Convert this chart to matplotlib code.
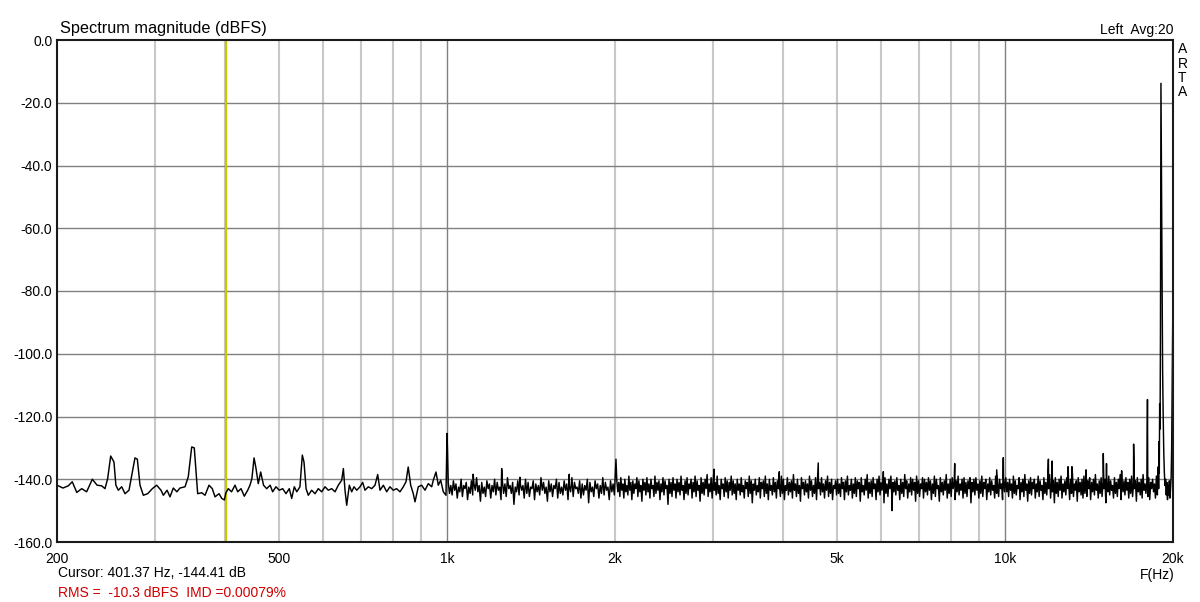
import numpy as np
import matplotlib
matplotlib.use("Agg")
import matplotlib.pyplot as plt

plt.rcParams['font.family'] = ['Liberation Sans', 'DejaVu Sans']

# ---------------- data ----------------
# low-frequency part (200 Hz .. 1 kHz), traced point by point
lf_freq = [200, 205, 209.5, 213, 217, 221.5, 226, 231.4, 236, 240.5, 243.8, 246.5,
           249.6, 253, 255, 257.6, 261.2, 264.8, 269.2, 272.9, 275.9, 278.6, 281.7,
           285.6, 290.8, 296.4, 301.8, 307.2, 310.2, 315, 318.8, 323.2, 328, 332.2,
           339.2, 343.8, 348.7, 352.4, 357.4, 363.4, 368.4, 374.5, 379.6, 383.9,
           390.3, 394.7, 399, 401.37, 405.5, 411, 416.9, 421.6, 427.4, 433.2, 439.3,
           443.5, 447, 451, 454.6, 458.9, 463.5, 469, 475.1, 482, 487, 493.7, 500.5,
           507.6, 514.5, 521.6, 526.8, 532.5, 538, 545, 550.4, 554.2, 559, 564.1,
           572.1, 580, 587.9, 596.2, 604.4, 612.7, 621.3, 629.9, 638.5, 647.5, 652,
           656.4, 661, 668.2, 674.8, 681.3, 689, 698.3, 706.1, 712.9, 722.6, 732.8,
           742.9, 751.2, 758.4, 769, 779.6, 790, 801.2, 812, 823.6, 835, 844.2, 852,
           860.8, 870, 876.2, 888.2, 900.7, 913.1, 925.6, 938.7, 944.9, 955.5, 964.6,
           974.2, 984.7, 995.7]
lf_db = [-141.9, -142.8, -142.1, -140.8, -144.2, -143.0, -144.0, -140.0, -141.9, -142.1,
         -143.0, -139.8, -132.6, -134.5, -141.9, -143.5, -142.4, -144.6, -143.5, -137.7,
         -133.2, -133.6, -141.9, -145.1, -144.6, -143.0, -141.9, -143.5, -145.1, -143.5,
         -145.6, -142.8, -144.0, -142.8, -142.4, -139.2, -129.7, -130.0, -144.6, -144.3,
         -145.1, -141.9, -143.0, -145.6, -144.6, -146.1, -146.6, -144.41, -143.0, -144.0,
         -141.9, -144.0, -143.0, -145.4, -143.5, -141.9, -139.8, -133.2, -136.5, -141.4,
         -137.7, -141.9, -143.0, -141.9, -144.0, -142.4, -143.5, -143.0, -144.6, -143.0,
         -146.1, -142.4, -144.0, -142.4, -132.3, -134.5, -143.0, -145.1, -143.5, -144.6,
         -143.0, -144.0, -142.4, -143.5, -143.0, -144.0, -141.9, -140.3, -136.6, -143.5,
         -148.3, -141.9, -144.0, -142.4, -143.5, -142.4, -141.0, -143.5, -142.4, -143.0,
         -141.9, -138.5, -143.5, -141.9, -144.0, -142.4, -143.5, -143.0, -144.0, -142.4,
         -140.8, -136.1, -141.9, -144.6, -147.2, -142.4, -141.9, -143.5, -141.4, -142.4,
         -140.3, -137.7, -141.9, -140.3, -144.0, -145.1]

# noise floor, read column by column, per frequency band
band_1k_2k = (1005, 1995)
noise_1k_2k = [
    -141, -144.5, -142, -145, -140.5, -143.5, -141.5, -146, -142.5, -144,
    -140, -145.5, -142, -143, -141, -146.5, -142.5, -144.5, -140.5, -145,
    -141.5, -143.5, -139.5, -144, -142, -147, -141, -144.5, -142.5, -145.5,
    -140.5, -143, -141.5, -146, -142, -144, -140, -145, -141, -143.5,
    -142.5, -146.5, -140.5, -144.5, -141.5, -145.5, -139.5, -143, -142, -144.5,
    -141, -148, -142.5, -144, -140.5, -145, -141.5, -143.5, -142, -146,
    -140, -144.5, -141, -145.5, -142.5, -143, -140.5, -146.5, -141.5, -144,
    -142, -145, -139.5, -143.5, -141, -144.5, -142.5, -147, -140.5, -144,
    -141.5, -145.5, -142, -143, -140, -146, -141, -144.5, -142.5, -145,
    -140.5, -143.5, -141.5, -146.5, -142, -144, -139.5, -145.5, -141, -143,
    -142.5, -144.5, -140.5, -146, -141.5, -145, -142, -143.5, -140, -147.5,
    -141, -144, -142.5, -145.5, -140.5, -143, -141.5, -146, -142, -144.5,
    -139.5, -145, -141, -143.5, -142.5, -146.5, -140.5, -144, -141.5, -145]
band_2k_5k = (2015, 4990)
noise_2k_5k = [
    -140.5, -144, -141, -145.5, -139.5, -143.5, -141.5, -146, -140, -144,
    -142, -145, -139, -143.5, -141, -146.5, -140.5, -144.5, -141.5, -143,
    -139.5, -145.5, -140.5, -144, -142, -147, -140, -143.5, -141, -145,
    -139.5, -144, -141.5, -146, -140, -143, -142, -145.5, -139, -144.5,
    -141, -143.5, -140.5, -146.5, -141.5, -144, -139.5, -145, -140.5, -143,
    -142, -148, -140, -144.5, -141, -145.5, -139.5, -143.5, -141.5, -146,
    -140, -144, -141, -145, -139, -143.5, -142, -146.5, -140.5, -144.5,
    -139.5, -145, -141.5, -143, -140, -146, -141, -144, -139, -145.5,
    -140.5, -143.5, -142, -147, -139.5, -144.5, -141, -145, -140, -143,
    -138.5, -145.5, -141.5, -144, -139.5, -146, -140.5, -143.5, -141, -145,
    -139, -144.5, -142, -146.5, -140, -143, -141.5, -145.5, -139.5, -144,
    -140.5, -146, -141, -143.5, -139, -145, -140.5, -144.5, -141.5, -146.5,
    -140, -143.5, -141.5, -145, -139.5, -144, -142, -146, -140.5, -143,
    -141, -145.5, -139, -144.5, -140.5, -147.5, -141.5, -143.5, -140, -145,
    -142, -144, -139.5, -146, -141, -143, -140.5, -145.5, -139, -144.5,
    -141.5, -146.5, -140, -143.5, -142, -145, -139.5, -144, -141, -146,
    -140.5, -143, -141.5, -145.5, -139, -144.5, -140, -146.5, -142, -143.5,
    -139.5, -145, -141, -144, -140.5, -146, -138.5, -143.5, -141.5, -145.5,
    -140, -144.5, -142, -147, -139.5, -143, -141, -145, -140.5, -144,
    -141.5, -146, -139, -143.5, -140.5, -145.5, -142, -144.5, -139.5, -146.5,
    -140, -143, -141, -145, -139.5, -144, -141.5, -146, -140.5, -143.5,
    -139, -145.5, -141, -144.5, -140, -146.5, -142, -143, -140.5, -145]
band_5k_10k = (5010, 9980)
noise_5k_10k = [
    -140, -144.5, -141.5, -145.5, -139.5, -143, -141, -146.5, -140.5, -144,
    -139, -145, -142, -143.5, -140, -146, -141.5, -144.5, -139.5, -145.5,
    -140.5, -143, -141, -147, -139.5, -144, -142, -145, -140, -143.5,
    -138.5, -146, -141, -144.5, -140.5, -145.5, -139.5, -143, -141.5, -146.5,
    -140, -144, -139, -145, -141, -143.5, -140.5, -147.5, -139.5, -144.5,
    -141.5, -145.5, -140, -143, -139, -146, -141, -144, -140.5, -145,
    -139.5, -143.5, -142, -146.5, -140, -144.5, -141, -145.5, -138.5, -143,
    -140.5, -146, -141.5, -144, -139.5, -145, -140, -143.5, -141, -147,
    -139, -144.5, -140.5, -145.5, -141.5, -143, -139.5, -146, -140, -144,
    -141, -145, -139.5, -143.5, -140.5, -146.5, -141.5, -144.5, -139, -145.5,
    -140, -143, -142, -147, -139.5, -144, -141, -145, -140.5, -143.5,
    -138.5, -146, -141.5, -144.5, -140, -145.5, -139.5, -143, -141, -146.5,
    -140.5, -144, -139, -145, -141.5, -143.5, -140, -146, -139.5, -144.5,
    -141, -145.5, -140.5, -143, -139.5, -147.5, -141, -144, -140, -145,
    -139.5, -143.5, -141.5, -146, -140.5, -144.5, -139, -145.5, -141, -143,
    -140, -146.5, -141.5, -144, -139.5, -145, -140.5, -143.5, -142, -146,
    -139, -144.5, -141, -145.5, -140, -143, -141.5, -146.5, -139.5, -144]
band_10k_19k = (10030, 18750)
noise_10k_19k = [
    -139.5, -144, -141, -145.5, -140, -143.5, -141.5, -146, -139, -144.5,
    -140.5, -145, -142, -143, -139.5, -146.5, -141, -144, -140, -145.5,
    -138.5, -143.5, -141.5, -147, -140.5, -144.5, -139.5, -145, -141, -143,
    -140, -146, -141.5, -144, -139, -145.5, -140.5, -143.5, -142, -146.5,
    -139.5, -144.5, -141, -145, -140, -143, -138.5, -146, -141.5, -144,
    -140.5, -147.5, -139.5, -144.5, -141, -145.5, -140, -143.5, -139, -146,
    -141.5, -144, -140.5, -145, -139.5, -143, -141, -146.5, -140, -144.5,
    -138.5, -145.5, -141.5, -143.5, -140.5, -147, -139.5, -144, -141, -145,
    -140, -146, -139, -144.5, -141.5, -145.5, -140.5, -143, -139.5, -146.5,
    -141, -144, -140, -145, -138.5, -143.5, -141.5, -146, -140.5, -144.5,
    -139.5, -145.5, -141, -143, -140, -147.5, -141.5, -144, -139, -145,
    -140.5, -143.5, -142, -146, -139.5, -144.5, -141, -145.5, -140, -143,
    -138.5, -146.5, -141.5, -144, -140.5, -145, -139.5, -143.5, -141, -146,
    -140, -144.5, -139, -145.5, -141.5, -143, -140.5, -147, -139.5, -144,
    -141, -145, -140, -146, -138.5, -143.5, -141.5, -144.5, -140.5, -145.5,
    -139.5, -146.5, -141, -143, -140, -144, -141.5, -146, -139, -145]

# discrete spurs / dips above and below the noise floor
spur_freq = [1000, 1002, 1114, 1253, 1351, 1656, 2008, 3010, 3940, 4627, 6052, 6270,
             8125, 9661, 9929, 11960, 12150, 12970, 13180, 13970, 15000, 15200, 16180,
             17000, 18000]
spur_db = [-125.4, -131.0, -138.4, -136.6, -139.4, -138.4, -133.6, -136.8, -137.6,
           -134.8, -137.6, -150.0, -135.0, -137.0, -133.1, -133.6, -134.2, -136.0,
           -136.0, -137.0, -131.8, -135.0, -137.3, -128.8, -114.6]

# the 19 kHz / 20 kHz test tones
tone_freq = [18780, 18820, 18850, 18880, 18900, 18930, 18960, 18990, 19030, 19080,
             19120, 19160, 19200, 19250, 19300, 19350, 19400, 19450, 19500, 19550,
             19600, 19650, 19700, 19750, 19800, 19850, 19890, 19930, 19960, 19990, 20000]
tone_db = [-140.0, -136.0, -143.0, -128.0, -138.0, -116.0, -124.0, -95.5, -13.8, -48.9,
           -72.0, -105.0, -118.0, -131.0, -138.0, -142.0, -140.0, -145.0, -141.0, -146.5,
           -142.0, -145.0, -140.5, -146.0, -143.0, -139.0, -130.0, -110.0, -96.0, -84.0,
           -165.0]

cursor_freq = 401.37
cursor_db = -144.41
rms_dbfs = -10.3
imd_pct = 0.00079
avg_count = 20

x_tick_vals = [200, 500, 1000, 2000, 5000, 10000, 20000]
x_tick_labels = ['200', '500', '1k', '2k', '5k', '10k', '20k']
y_tick_vals = [0, -20, -40, -60, -80, -100, -120, -140, -160]
y_tick_labels = ['0.0', '-20.0', '-40.0', '-60.0', '-80.0', '-100.0', '-120.0',
                 '-140.0', '-160.0']
grid_light = [300, 400, 500, 600, 700, 800, 900, 2000, 3000, 4000, 5000, 6000, 7000,
              8000, 9000]
grid_dark = [1000, 10000]

# ---------------- assemble the trace ----------------
segs = [(band_1k_2k, noise_1k_2k), (band_2k_5k, noise_2k_5k),
        (band_5k_10k, noise_5k_10k), (band_10k_19k, noise_10k_19k)]
f_parts = [np.array(lf_freq, float), np.array(spur_freq, float), np.array(tone_freq, float)]
d_parts = [np.array(lf_db, float), np.array(spur_db, float), np.array(tone_db, float)]
for (f0, f1), vals in segs:
    f_parts.append(np.geomspace(f0, f1, len(vals)))
    d_parts.append(np.array(vals, float))
freq = np.concatenate(f_parts)
db = np.concatenate(d_parts)
order = np.argsort(freq, kind='stable')
freq, db = freq[order], db[order]

# ---------------- figure ----------------
W, H = 1200, 602
fig = plt.figure(figsize=(W / 100, H / 100), dpi=100)
ax = fig.add_axes([57 / W, 1 - 542 / H, 1116 / W, 502 / H])
ax.set_xscale('log')
ax.set_xlim(200, 20000)
ax.set_ylim(-160, 0)

for g in grid_light:
    ax.axvline(g, color='#c8c8c8', lw=1.5, zorder=1)
for g in grid_dark:
    ax.axvline(g, color='#808080', lw=1.0, zorder=1.2)
for g in y_tick_vals[1:-1]:
    ax.axhline(g, color='#808080', lw=1.0, zorder=1.2)

ax.axvline(cursor_freq, color='#c8c800', lw=1.6, zorder=2)
ax.plot(freq, db, color='black', lw=1.05, zorder=3)

ax.set_xticks(x_tick_vals)
ax.set_xticklabels(x_tick_labels)
ax.xaxis.set_minor_locator(matplotlib.ticker.NullLocator())
ax.set_yticks(y_tick_vals)
ax.set_yticklabels(y_tick_labels)
ax.tick_params(axis='both', length=0, labelsize=10, colors='black')
ax.tick_params(axis='x', pad=7.3)
ax.tick_params(axis='y', pad=3.4)
for s in ax.spines.values():
    s.set_color('#1a1a1a')
    s.set_linewidth(1.5)
    s.set_zorder(5)

def px(x, y):
    return x / W, 1 - y / H

fig.text(*px(60, 33.3), 'Spectrum magnitude (dBFS)', fontsize=11.7, ha='left', va='baseline')
fig.text(*px(1174, 34), f'Left  Avg:{avg_count}', fontsize=10, ha='right', va='baseline')
for i, ch in enumerate('ARTA'):
    fig.text(*px(1182.5, 53.3 + 14.2 * i), ch, fontsize=10, ha='center', va='baseline')
fig.text(*px(1175, 579), 'F(Hz)', fontsize=10, ha='right', va='baseline')
fig.text(*px(58, 577.3), f'Cursor: {cursor_freq:.2f} Hz, {cursor_db:.2f} dB',
         fontsize=10, ha='left', va='baseline')
fig.text(*px(58, 596.7), f'RMS =  {rms_dbfs:.1f} dBFS  IMD ={imd_pct:.5f}%',
         fontsize=10, ha='left', va='baseline', color='#d00000')

fig.savefig('out.png', dpi=100)
